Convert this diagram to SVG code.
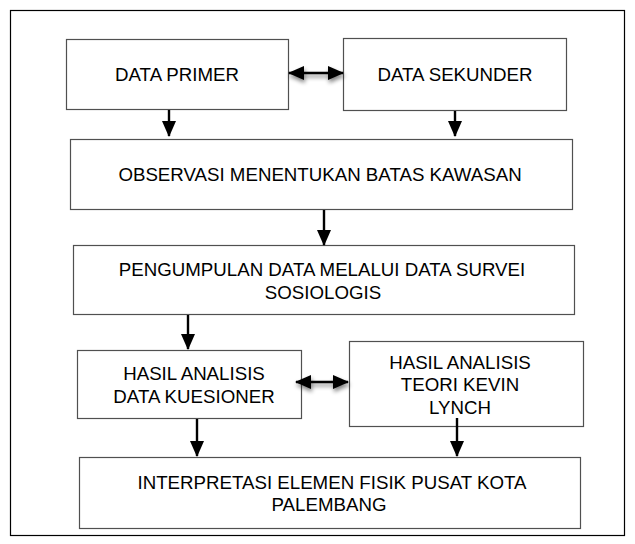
<svg xmlns="http://www.w3.org/2000/svg" width="635" height="544" viewBox="0 0 635 544">
  <style>
    .box { fill: #ffffff; stroke: #505050; stroke-width: 1.2; }
    .frame { fill: #ffffff; stroke: #000000; stroke-width: 1.2; }
    .label { font-family: "Liberation Sans", Arial, sans-serif; font-size: 18.7px; fill: #000000; text-anchor: middle; }
    .link { stroke: #000000; stroke-width: 2.4; fill: none; }
  </style>
  <defs>
    <marker id="head" viewBox="0 0 16 14" refX="15" refY="7" markerWidth="16" markerHeight="14" orient="auto-start-reverse" markerUnits="userSpaceOnUse">
      <path d="M0,0 L16,7 L0,14 Z" fill="#000000"/>
    </marker>
    <filter id="shadow" filterUnits="userSpaceOnUse" x="0" y="0" width="635" height="544">
      <feGaussianBlur in="SourceAlpha" stdDeviation="2"/>
      <feOffset dx="1" dy="3" result="b"/>
      <feComponentTransfer><feFuncA type="linear" slope="0.5"/></feComponentTransfer>
      <feMerge><feMergeNode/><feMergeNode in="SourceGraphic"/></feMerge>
    </filter>
  </defs>

  <rect class="frame" x="10.5" y="10.5" width="614" height="525"/>

  <g id="data-primer">
    <rect class="box" x="66.5" y="39.5" width="222" height="70"/>
    <text class="label" x="177" y="81">DATA PRIMER</text>
  </g>
  <g id="data-sekunder">
    <rect class="box" x="343.5" y="38.5" width="223" height="72"/>
    <text class="label" x="455" y="81">DATA SEKUNDER</text>
  </g>
  <g id="observasi">
    <rect class="box" x="70.5" y="139.5" width="502" height="70"/>
    <text class="label" x="320" y="181">OBSERVASI MENENTUKAN BATAS KAWASAN</text>
  </g>
  <g id="pengumpulan">
    <rect class="box" x="73.5" y="245.5" width="501" height="69"/>
    <text class="label" x="322" y="276">PENGUMPULAN DATA MELALUI DATA SURVEI</text>
    <text class="label" x="323" y="299">SOSIOLOGIS</text>
  </g>
  <g id="hasil-kuesioner">
    <rect class="box" x="77.5" y="350.5" width="224" height="68"/>
    <text class="label" x="194" y="380">HASIL ANALISIS</text>
    <text class="label" x="194" y="403">DATA KUESIONER</text>
  </g>
  <g id="hasil-lynch">
    <rect class="box" x="349.5" y="341.5" width="234" height="85"/>
    <text class="label" x="460" y="369">HASIL ANALISIS</text>
    <text class="label" x="460" y="391">TEORI KEVIN</text>
    <text class="label" x="460" y="414">LYNCH</text>
  </g>
  <g id="interpretasi">
    <rect class="box" x="79.5" y="457.5" width="501" height="71"/>
    <text class="label" x="332" y="489">INTERPRETASI ELEMEN FISIK PUSAT KOTA</text>
    <text class="label" x="329" y="511">PALEMBANG</text>
  </g>

  <g id="connectors">
    <line class="link" x1="289" y1="73" x2="343" y2="73" marker-start="url(#head)" marker-end="url(#head)" filter="url(#shadow)"/>
    <line class="link" x1="169" y1="110" x2="169" y2="136" marker-end="url(#head)"/>
    <line class="link" x1="455" y1="111" x2="455" y2="136" marker-end="url(#head)"/>
    <line class="link" x1="324" y1="210" x2="324" y2="245" marker-end="url(#head)"/>
    <line class="link" x1="188" y1="315" x2="188" y2="349" marker-end="url(#head)"/>
    <line class="link" x1="296" y1="382" x2="348" y2="382" marker-start="url(#head)" marker-end="url(#head)" filter="url(#shadow)"/>
    <line class="link" x1="197" y1="419" x2="197" y2="456" marker-end="url(#head)"/>
    <line class="link" x1="457" y1="418" x2="457" y2="456" marker-end="url(#head)"/>
  </g>
</svg>
